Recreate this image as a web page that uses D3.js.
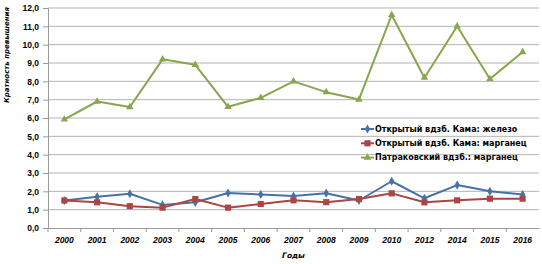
<!DOCTYPE html>
<html>
<head>
<meta charset="utf-8">
<script src="https://cdn.jsdelivr.net/npm/d3@7"></script>
<style>
  body { margin: 0; background: #fff; }
  svg { font-family: "DejaVu Sans", Verdana, sans-serif; }
  .tick text { font-weight: bold; fill: #000; }
</style>
</head>
<body>
<div id="chart"></div>
<script>
// data
const years = ["2000","2001","2002","2003","2004","2005","2006","2007","2008","2009","2010","2012","2014","2015","2016"];
const iron = [1.5, 1.7, 1.87, 1.26, 1.4, 1.91, 1.83, 1.74, 1.9, 1.5, 2.55, 1.62, 2.34, 2.0, 1.83];
const manganese = [1.5, 1.4, 1.19, 1.11, 1.58, 1.11, 1.31, 1.51, 1.41, 1.58, 1.89, 1.4, 1.51, 1.6, 1.6];
const patrakManganese = [5.92, 6.9, 6.6, 9.2, 8.9, 6.61, 7.1, 8.0, 7.41, 7.01, 11.62, 8.2, 11.0, 8.13, 9.6];
const yTicks = [0,1,2,3,4,5,6,7,8,9,10,11,12];
const seriesNames = ["Открытый вдзб. Кама: железо", "Открытый вдзб. Кама: марганец", "Патраковский вдзб.: марганец"];

const W = 542, H = 264;
const margin = { TOP: 8, BOTTOM: 36, LEFT: 48, RIGHT: 3 };

const svg = d3.select("#chart").append("svg")
  .attr("width", W)
  .attr("height", H);

const x = d3.scaleBand()
  .domain(years)
  .range([margin.LEFT, W - margin.RIGHT]);

const y = d3.scaleLinear()
  .domain([0, 12])
  .range([H - margin.BOTTOM, margin.TOP]);

// gridlines
svg.append("g")
  .selectAll("line")
  .data(yTicks.filter(d => d > 0))
  .join("line")
    .attr("x1", margin.LEFT)
    .attr("x2", W - margin.RIGHT)
    .attr("y1", d => y(d))
    .attr("y2", d => y(d))
    .attr("stroke", "#b4b4b4")
    .attr("stroke-width", 1);

// y axis
const yAxis = svg.append("g")
  .attr("transform", `translate(${margin.LEFT},0)`)
  .call(d3.axisLeft(y).tickValues(yTicks).tickSize(5).tickPadding(4)
    .tickFormat(d => d3.format(".1f")(d).replace(".", ",")));
yAxis.selectAll("line, path").attr("stroke", "#9a9a9a");
yAxis.selectAll("text").style("font-size", "8.5px");

// x axis, ticks at category borders
const xAxis = svg.append("g")
  .attr("transform", `translate(0,${y(0)})`)
  .call(d3.axisBottom(x).tickSize(0).tickPadding(9).tickSizeOuter(0));
xAxis.select("path").attr("stroke", "#9a9a9a");
xAxis.selectAll("text").style("font-size", "8.5px").style("font-style", "italic");
xAxis.append("g")
  .selectAll("line")
  .data(years)
  .join("line")
    .attr("x1", d => x(d))
    .attr("x2", d => x(d))
    .attr("y1", 0)
    .attr("y2", 4)
    .attr("stroke", "#9a9a9a");

// axis titles
svg.append("text")
  .attr("transform", "translate(9,55) rotate(-90)")
  .attr("text-anchor", "middle")
  .style("font-size", "7px")
  .style("font-weight", "bold")
  .style("font-style", "italic")
  .text("Кратность превышения");

svg.append("text")
  .attr("x", (margin.LEFT + W - margin.RIGHT) / 2)
  .attr("y", 258)
  .attr("text-anchor", "middle")
  .style("font-size", "7.5px")
  .style("font-weight", "bold")
  .style("font-style", "italic")
  .text("Годы");

const cx = d => x(d) + x.bandwidth() / 2;

const series = [
  { name: seriesNames[0], values: iron, color: "#4572A7", shape: d3.symbolDiamond, size: 24 },
  { name: seriesNames[1], values: manganese, color: "#AA4643", shape: d3.symbolSquare, size: 38 },
  { name: seriesNames[2], values: patrakManganese, color: "#89A54E", shape: d3.symbolTriangle, size: 24 }
];

const line = d3.line()
  .x((d, i) => cx(years[i]))
  .y(d => y(d));

series.forEach(s => {
  svg.append("path")
    .datum(s.values)
    .attr("fill", "none")
    .attr("stroke", s.color)
    .attr("stroke-width", 2)
    .attr("stroke-linejoin", "round")
    .attr("d", line);

  svg.append("g")
    .selectAll("path")
    .data(s.values)
    .join("path")
      .attr("transform", (d, i) => `translate(${cx(years[i])},${y(d)})`)
      .attr("d", d3.symbol().type(s.shape).size(s.size))
      .attr("fill", s.color);
});

// legend
const legend = svg.append("g")
  .selectAll("g")
  .data(series)
  .join("g")
    .attr("transform", (d, i) => `translate(361,${129 + i * 14.3})`);

legend.append("line")
  .attr("x1", 0).attr("x2", 13)
  .attr("stroke", d => d.color)
  .attr("stroke-width", 2);

legend.append("path")
  .attr("transform", "translate(6.5,0)")
  .attr("d", d => d3.symbol().type(d.shape).size(d.size)())
  .attr("fill", d => d.color);

legend.append("text")
  .attr("x", 14)
  .attr("dy", "0.35em")
  .style("font-size", "8px")
  .style("font-weight", "bold")
  .text(d => d.name);
</script>
</body>
</html>
